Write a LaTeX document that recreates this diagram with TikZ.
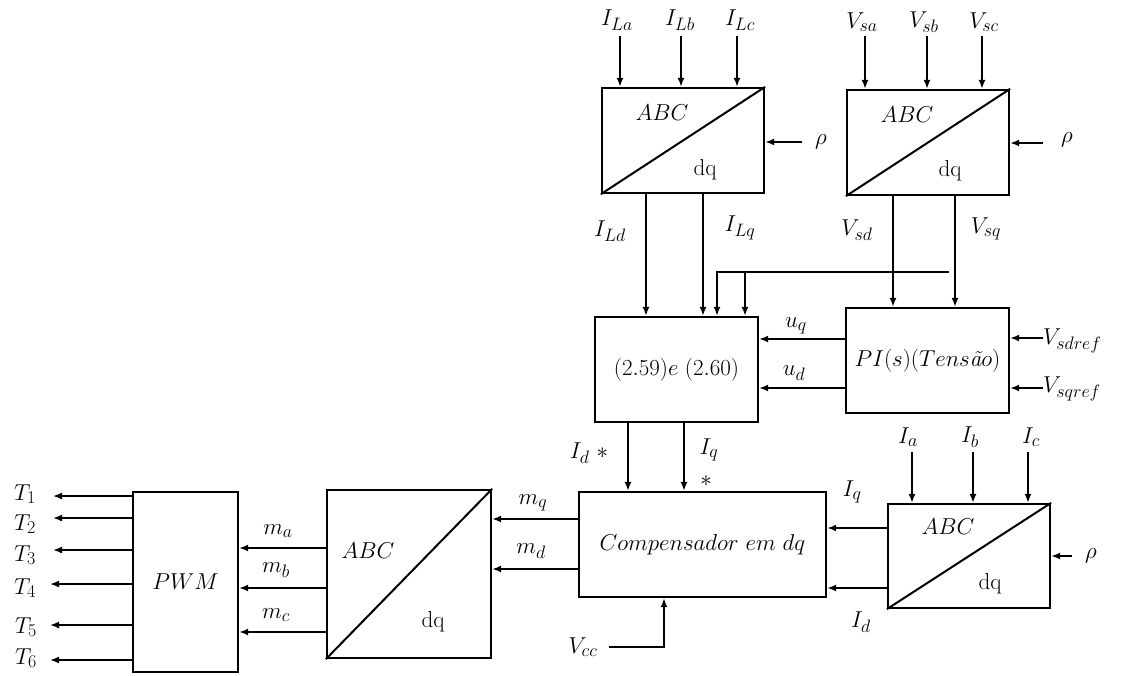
\RequirePackage{fix-cm}
\documentclass[tikz,border=0pt]{standalone}
\usetikzlibrary{arrows.meta}
\DeclareMathSizes{23}{23}{18}{14}
\begin{document}
\begin{tikzpicture}[x=1pt,y=-1pt,
  every node/.style={font=\fontsize{23}{26}\selectfont, inner sep=1pt},
  box/.style={draw, line width=2.3pt, inner sep=0pt},
  arr/.style={line width=1.7pt, -{Latex[length=9pt,width=7pt]}},
  diag/.style={line width=2pt}]
\useasboundingbox (0,0) rectangle (1123,675);

% ---------- blocks ----------
\node[box,minimum width=162pt,minimum height=105pt] (b1) at (683,140.5) {};
\node[box,minimum width=162pt,minimum height=105pt] (b2) at (928,142.5) {};
\node[box,minimum width=163pt,minimum height=105pt] (b3) at (676.5,369.5) {$(2.59)e\;(2.60)$};
\node[box,minimum width=163pt,minimum height=105pt] (pi) at (927.5,360.5) {$PI(s)(Tens\mbox{\itshape ã}o)$};
\node[box,minimum width=247pt,minimum height=105pt] (comp) at (702.5,544.5) {$Compensador\ em\ dq$};
\node[box,minimum width=162pt,minimum height=104pt] (b4) at (969,556) {};
\node[box,minimum width=164pt,minimum height=168pt] (b5) at (409,574) {};
\node[box,minimum width=105pt,minimum height=180pt] (pwm) at (185.5,582) {$PWM$};

% diagonals and texts
\draw[diag] (b1.south west) -- (b1.north east);
\draw[diag] (b2.south west) -- (b2.north east);
\draw[diag] (b4.south west) -- (b4.north east);
\draw[diag] (b5.south west) -- (b5.north east);
\node (b1abc) at (662,113) {$ABC$};
\node (b1dq) at (705,170) {dq};
\node (b2abc) at (907,115) {$ABC$};
\node (b2dq) at (950,171) {dq};
\node (b4abc) at (948,527) {$ABC$};
\node (b4dq) at (990,584) {dq};
\node (b5abc) at (368,551) {$ABC$};
\node (b5dq) at (433,622) {dq};

% ---------- block 1 inputs ----------
\coordinate (iLa) at (620,36);
\coordinate (iLb) at (681,36);
\coordinate (iLc) at (737,36);
\draw[arr] (iLa) -- (iLa |- b1.north);
\draw[arr] (iLb) -- (iLb |- b1.north);
\draw[arr] (iLc) -- (iLc |- b1.north);
\node (lLa) at (617,20) {$I_{La}$};
\node (lLb) at (680,20) {$I_{Lb}$};
\node (lLc) at (740,20) {$I_{Lc}$};
\coordinate (rho1) at (802,142);
\draw[arr] (rho1) -- (rho1 -| b1.east);
\node (lrho1) at (821,142) {$\rho$};

% ---------- block 2 inputs ----------
\coordinate (vSa) at (865,36);
\coordinate (vSb) at (927,36);
\coordinate (vSc) at (982,36);
\draw[arr] (vSa) -- (vSa |- b2.north);
\draw[arr] (vSb) -- (vSb |- b2.north);
\draw[arr] (vSc) -- (vSc |- b2.north);
\node (lSa) at (862,22) {$V_{sa}$};
\node (lSb) at (924,22) {$V_{sb}$};
\node (lSc) at (984,22) {$V_{sc}$};
\coordinate (rho2) at (1043,143);
\draw[arr] (rho2) -- (rho2 -| b2.east);
\node (lrho2) at (1067,140) {$\rho$};

% ---------- block 1 -> block 3 ----------
\coordinate (xLd) at (646,0);
\coordinate (xLq) at (703,0);
\draw[arr] (b1.south -| xLd) -- (b3.north -| xLd);
\draw[arr] (b1.south -| xLq) -- (b3.north -| xLq);
\node (lLd) at (610,231) {$I_{Ld}$};
\node (lLq) at (740,228) {$I_{Lq}$};

% ---------- block 2 -> PI ----------
\coordinate (xSd) at (893,0);
\coordinate (xSq) at (955,0);
\draw[arr] (b2.south -| xSd) -- (pi.north -| xSd);
\draw[arr] (b2.south -| xSq) -- (pi.north -| xSq);
\node (lSd) at (857,230) {$V_{sd}$};
\node (lSq) at (986,229) {$V_{sq}$};

% ---------- feedback line ----------
\coordinate (fbR) at (949,272);
\coordinate (fbA) at (717,272);
\coordinate (fbB) at (745,272);
\draw[arr] (fbR) -- (fbA) -- (fbA |- b3.north);
\draw[arr] (fbB) -- (fbB |- b3.north);

% ---------- PI -> block 3 ----------
\coordinate (yUq) at (0,339);
\coordinate (yUd) at (0,388);
\draw[arr] (pi.west |- yUq) -- (b3.east |- yUq);
\draw[arr] (pi.west |- yUd) -- (b3.east |- yUd);
\node (luq) at (796,326) {$u_q$};
\node (lud) at (794,373) {$u_d$};
\coordinate (vdref) at (1043,338);
\coordinate (vqref) at (1043,388);
\draw[arr] (vdref) -- (vdref -| pi.east);
\draw[arr] (vqref) -- (vqref -| pi.east);
\node[anchor=west] (lvdref) at (1042,341) {$V_{sdref}$};
\node[anchor=west] (lvqref) at (1042,389) {$V_{sqref}$};

% ---------- block 3 -> compensator ----------
\coordinate (xId) at (628,0);
\coordinate (xIq) at (684,0);
\draw[arr] (b3.south -| xId) -- (comp.north -| xId);
\draw[arr] (b3.south -| xIq) -- (comp.north -| xIq);
\node (lIds) at (589,453) {$I_d\ *$};
\node (lIqs) at (709,450) {$I_q$};
\node (lIqstar) at (706,481) {$*$};

% ---------- Vcc ----------
\coordinate (vcc) at (609,647);
\coordinate (vccK) at (664,647);
\draw[arr] (vcc) -- (vccK) -- (vccK |- comp.south);
\node (lvcc) at (583,647) {$V_{cc}$};

% ---------- block 4 ----------
\coordinate (ia) at (912,452);
\coordinate (ib) at (973,452);
\coordinate (ic) at (1028,452);
\draw[arr] (ia) -- (ia |- b4.north);
\draw[arr] (ib) -- (ib |- b4.north);
\draw[arr] (ic) -- (ic |- b4.north);
\node (lia) at (908,437) {$I_a$};
\node (lib) at (970,437) {$I_b$};
\node (lic) at (1031,437) {$I_c$};
\coordinate (rho3) at (1072,556);
\draw[arr] (rho3) -- (rho3 -| b4.east);
\node (lrho3) at (1091,556) {$\rho$};
\coordinate (yIq) at (0,528);
\coordinate (yId) at (0,588);
\draw[arr] (b4.west |- yIq) -- (comp.east |- yIq);
\draw[arr] (b4.west |- yId) -- (comp.east |- yId);
\node (lIq) at (852,492) {$I_q$};
\node (lId) at (861,622) {$I_d$};

% ---------- compensator -> block 5 ----------
\coordinate (yMq) at (0,519);
\coordinate (yMd) at (0,569);
\draw[arr] (comp.west |- yMq) -- (b5.east |- yMq);
\draw[arr] (comp.west |- yMd) -- (b5.east |- yMd);
\node (lmq) at (533,503) {$m_q$};
\node (lmd) at (531,551) {$m_d$};

% ---------- block 5 -> PWM ----------
\coordinate (yMa) at (0,548);
\coordinate (yMb) at (0,588);
\coordinate (yMc) at (0,632);
\draw[arr] (b5.west |- yMa) -- (pwm.east |- yMa);
\draw[arr] (b5.west |- yMb) -- (pwm.east |- yMb);
\draw[arr] (b5.west |- yMc) -- (pwm.east |- yMc);
\node (lma) at (278,531) {$m_a$};
\node (lmb) at (276,570) {$m_b$};
\node (lmc) at (276,615) {$m_c$};

% ---------- PWM outputs ----------
\coordinate (t1) at (53,496);
\coordinate (t2) at (53,518);
\coordinate (t3) at (53,550);
\coordinate (t4) at (50,584);
\coordinate (t5) at (50,625);
\coordinate (t6) at (50,660);
\draw[arr] (pwm.west |- t1) -- (t1);
\draw[arr] (pwm.west |- t2) -- (t2);
\draw[arr] (pwm.west |- t3) -- (t3);
\draw[arr] (pwm.west |- t4) -- (t4);
\draw[arr] (pwm.west |- t5) -- (t5);
\draw[arr] (pwm.west |- t6) -- (t6);
\node (lt1) at (25,494) {$T_1$};
\node (lt2) at (25,524) {$T_2$};
\node (lt3) at (25,555) {$T_3$};
\node (lt4) at (25,588) {$T_4$};
\node (lt5) at (26,627) {$T_5$};
\node (lt6) at (26,658) {$T_6$};
\end{tikzpicture}
\end{document}
